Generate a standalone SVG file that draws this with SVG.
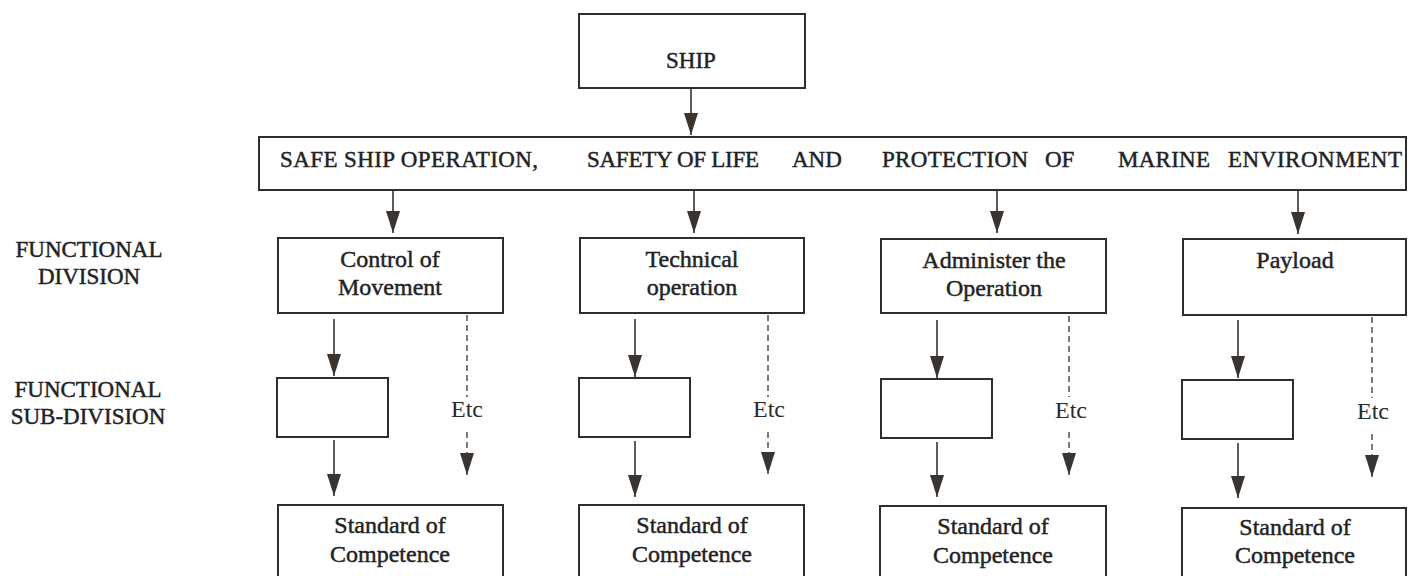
<svg xmlns="http://www.w3.org/2000/svg" width="1408" height="576" viewBox="0 0 1408 576">
  <style>
    .box { fill: #ffffff; stroke: #2e2e2e; stroke-width: 2; }
    .lbl { font-family: "Liberation Serif", "Times New Roman", serif; font-size: 24px; fill: #222222; stroke: #222222; stroke-width: 0.45; text-anchor: middle; }
    .cap { font-family: "Liberation Serif", "Times New Roman", serif; font-size: 23px; fill: #222222; stroke: #222222; stroke-width: 0.45; text-anchor: middle; }
    .band { font-family: "Liberation Serif", "Times New Roman", serif; font-size: 23px; fill: #222222; stroke: #222222; stroke-width: 0.45; }
    .etc { font-family: "Liberation Serif", "Times New Roman", serif; font-size: 24px; fill: #2a2a2a; text-anchor: middle; }
    .solid { stroke: #333333; stroke-width: 1.6; fill: none; }
    .dash { stroke: #444444; stroke-width: 1.4; stroke-dasharray: 6 4; fill: none; }
  </style>
  <defs>
    <marker id="ah" viewBox="0 0 22 14" refX="22" refY="7" markerWidth="22" markerHeight="14" markerUnits="userSpaceOnUse" orient="auto">
      <path d="M0,0 L22,7 L0,14 Z" fill="#3a3430"/>
    </marker>
  </defs>
  <rect width="1408" height="576" fill="#ffffff"/>

  <g id="ship">
    <rect class="box" x="579" y="14" width="226" height="74"/>
    <text class="cap" x="691" y="68">SHIP</text>
  </g>

  <g id="goals">
    <rect class="box" x="259" y="137" width="1147" height="53"/>
    <text class="band" y="167">
      <tspan x="280" textLength="258">SAFE SHIP OPERATION,</tspan>
      <tspan x="587" textLength="172">SAFETY OF LIFE</tspan>
      <tspan x="792">AND</tspan>
      <tspan x="882" textLength="146">PROTECTION</tspan>
      <tspan x="1045">OF</tspan>
      <tspan x="1118" textLength="92">MARINE</tspan>
      <tspan x="1228" textLength="174">ENVIRONMENT</tspan>
    </text>
  </g>

  <g id="label-functional-division">
    <text class="cap" x="89" y="257">FUNCTIONAL</text>
    <text class="cap" x="89" y="284">DIVISION</text>
  </g>
  <g id="label-functional-subdivision">
    <text class="cap" x="88" y="397">FUNCTIONAL</text>
    <text class="cap" x="88" y="424">SUB-DIVISION</text>
  </g>

  <g id="control-of-movement">
    <rect class="box" x="278" y="238" width="225" height="75"/>
    <text class="lbl" x="390" y="267">Control of</text>
    <text class="lbl" x="390" y="295">Movement</text>
  </g>
  <g id="technical-operation">
    <rect class="box" x="580" y="238" width="224" height="75"/>
    <text class="lbl" x="692" y="267">Technical</text>
    <text class="lbl" x="692" y="295">operation</text>
  </g>
  <g id="administer-operation">
    <rect class="box" x="881" y="239" width="225" height="74"/>
    <text class="lbl" x="994" y="268">Administer the</text>
    <text class="lbl" x="994" y="296">Operation</text>
  </g>
  <g id="payload">
    <rect class="box" x="1183" y="239" width="223" height="76"/>
    <text class="lbl" x="1295" y="268">Payload</text>
  </g>

  <g id="sub-1"><rect class="box" x="277" y="378" width="111" height="59"/></g>
  <g id="sub-2"><rect class="box" x="579" y="378" width="111" height="59"/></g>
  <g id="sub-3"><rect class="box" x="881" y="379" width="111" height="59"/></g>
  <g id="sub-4"><rect class="box" x="1182" y="380" width="111" height="59"/></g>

  <g id="standard-1">
    <rect class="box" x="278" y="505" width="225" height="100"/>
    <text class="lbl" x="390" y="533">Standard of</text>
    <text class="lbl" x="390" y="562">Competence</text>
  </g>
  <g id="standard-2">
    <rect class="box" x="579" y="505" width="225" height="100"/>
    <text class="lbl" x="692" y="533">Standard of</text>
    <text class="lbl" x="692" y="562">Competence</text>
  </g>
  <g id="standard-3">
    <rect class="box" x="880" y="506" width="226" height="100"/>
    <text class="lbl" x="993" y="534">Standard of</text>
    <text class="lbl" x="993" y="563">Competence</text>
  </g>
  <g id="standard-4">
    <rect class="box" x="1182" y="508" width="224" height="100"/>
    <text class="lbl" x="1295" y="535">Standard of</text>
    <text class="lbl" x="1295" y="563">Competence</text>
  </g>

  <g id="connectors">
    <line class="solid" x1="691" y1="88" x2="691" y2="135" marker-end="url(#ah)"/>
    <line class="solid" x1="393" y1="191" x2="393" y2="233" marker-end="url(#ah)"/>
    <line class="solid" x1="694" y1="191" x2="694" y2="233" marker-end="url(#ah)"/>
    <line class="solid" x1="997" y1="191" x2="997" y2="233" marker-end="url(#ah)"/>
    <line class="solid" x1="1298" y1="191" x2="1298" y2="234" marker-end="url(#ah)"/>

    <line class="solid" x1="334" y1="319" x2="334" y2="376" marker-end="url(#ah)"/>
    <line class="solid" x1="635" y1="319" x2="635" y2="377" marker-end="url(#ah)"/>
    <line class="solid" x1="937" y1="320" x2="937" y2="378" marker-end="url(#ah)"/>
    <line class="solid" x1="1238" y1="320" x2="1238" y2="378" marker-end="url(#ah)"/>

    <line class="solid" x1="334" y1="440" x2="334" y2="496" marker-end="url(#ah)"/>
    <line class="solid" x1="635" y1="441" x2="635" y2="497" marker-end="url(#ah)"/>
    <line class="solid" x1="937" y1="442" x2="937" y2="497" marker-end="url(#ah)"/>
    <line class="solid" x1="1238" y1="443" x2="1238" y2="498" marker-end="url(#ah)"/>

    <line class="dash" x1="467" y1="315" x2="467" y2="397"/>
    <line class="dash" x1="467" y1="432" x2="467" y2="475" marker-end="url(#ah)"/>
    <line class="dash" x1="768" y1="315" x2="768" y2="397"/>
    <line class="dash" x1="768" y1="432" x2="768" y2="474" marker-end="url(#ah)"/>
    <line class="dash" x1="1069" y1="316" x2="1069" y2="397"/>
    <line class="dash" x1="1069" y1="432" x2="1069" y2="475" marker-end="url(#ah)"/>
    <line class="dash" x1="1372" y1="317" x2="1372" y2="398"/>
    <line class="dash" x1="1372" y1="434" x2="1372" y2="477" marker-end="url(#ah)"/>
  </g>

  <g id="etc-labels">
    <text class="etc" x="467" y="417">Etc</text>
    <text class="etc" x="769" y="417">Etc</text>
    <text class="etc" x="1071" y="418">Etc</text>
    <text class="etc" x="1373" y="419">Etc</text>
  </g>
</svg>
